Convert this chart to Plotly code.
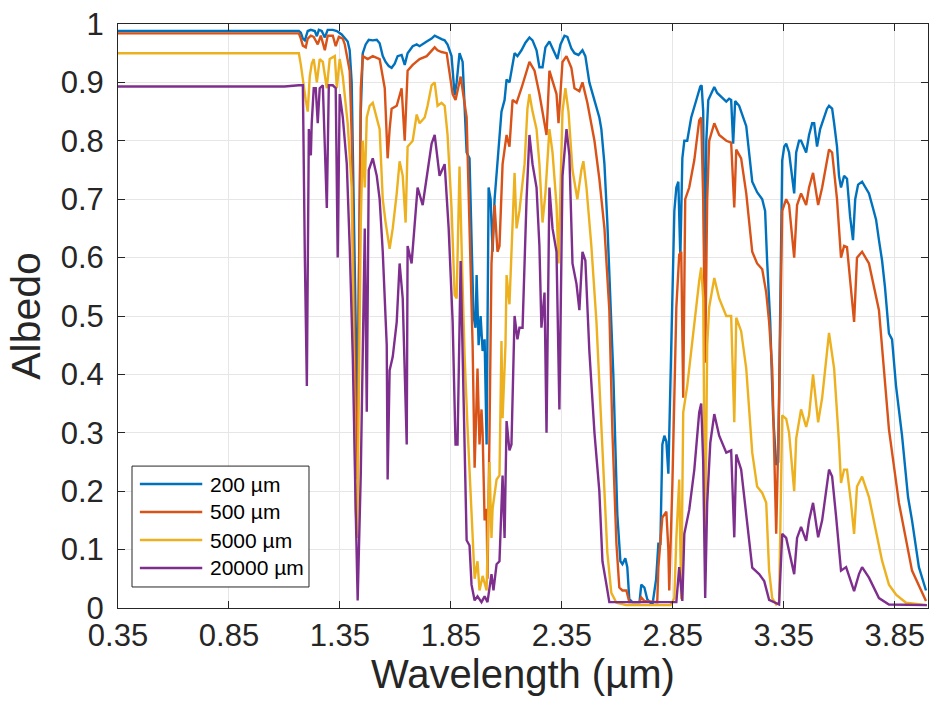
import plotly.graph_objects as go

# Spectral albedo of snow for four grain sizes: (wavelength in µm, albedo)
albedo_200um = [
    (0.35, 0.988), (1.165, 0.988), (1.174, 0.985), (1.183, 0.975), (1.192, 0.972), (1.205, 0.988),
    (1.219, 0.990), (1.237, 0.988), (1.246, 0.979), (1.255, 0.990), (1.268, 0.988), (1.282, 0.977),
    (1.295, 0.990), (1.318, 0.990), (1.336, 0.988), (1.358, 0.982), (1.385, 0.970), (1.394, 0.955),
    (1.403, 0.90), (1.412, 0.70), (1.421, 0.45), (1.428, 0.33), (1.435, 0.55), (1.444, 0.85),
    (1.453, 0.95), (1.466, 0.965), (1.480, 0.973), (1.498, 0.972), (1.516, 0.973), (1.529, 0.967),
    (1.543, 0.945), (1.556, 0.935), (1.570, 0.928), (1.583, 0.925), (1.597, 0.932), (1.610, 0.945),
    (1.628, 0.947), (1.642, 0.930), (1.655, 0.950), (1.678, 0.962), (1.696, 0.965), (1.709, 0.962),
    (1.741, 0.970), (1.763, 0.975), (1.777, 0.980), (1.790, 0.977), (1.808, 0.974), (1.822, 0.972),
    (1.835, 0.965), (1.853, 0.945), (1.867, 0.878), (1.876, 0.90), (1.889, 0.950), (1.903, 0.935),
    (1.921, 0.78), (1.934, 0.77), (1.943, 0.62), (1.952, 0.50), (1.961, 0.48), (1.966, 0.57),
    (1.975, 0.45), (1.984, 0.50), (1.993, 0.44), (2.002, 0.46), (2.011, 0.28), (2.020, 0.72),
    (2.029, 0.70), (2.038, 0.61), (2.047, 0.70), (2.056, 0.74), (2.069, 0.80), (2.078, 0.85),
    (2.092, 0.87), (2.101, 0.905), (2.114, 0.90), (2.128, 0.935), (2.137, 0.95), (2.150, 0.945),
    (2.168, 0.955), (2.186, 0.968), (2.204, 0.977), (2.218, 0.972), (2.236, 0.955), (2.249, 0.926),
    (2.263, 0.926), (2.276, 0.96), (2.294, 0.970), (2.312, 0.955), (2.330, 0.940), (2.344, 0.965),
    (2.362, 0.980), (2.375, 0.978), (2.393, 0.958), (2.407, 0.950), (2.425, 0.947), (2.443, 0.955),
    (2.456, 0.945), (2.474, 0.90), (2.497, 0.87), (2.519, 0.84), (2.528, 0.82), (2.542, 0.76),
    (2.555, 0.66), (2.569, 0.53), (2.582, 0.40), (2.600, 0.16), (2.614, 0.08), (2.623, 0.075),
    (2.636, 0.085), (2.645, 0.070), (2.654, 0.015), (2.668, 0.01), (2.700, 0.01), (2.708, 0.04),
    (2.722, 0.035), (2.735, 0.015), (2.758, 0.005), (2.775, 0.05), (2.785, 0.11), (2.794, 0.11),
    (2.798, 0.17), (2.803, 0.28), (2.812, 0.295), (2.821, 0.285), (2.830, 0.23), (2.839, 0.40),
    (2.848, 0.55), (2.857, 0.68), (2.866, 0.72), (2.875, 0.73), (2.884, 0.60), (2.893, 0.77),
    (2.902, 0.80), (2.915, 0.80), (2.933, 0.84), (2.947, 0.86), (2.960, 0.875), (2.974, 0.893),
    (2.980, 0.895), (2.987, 0.85), (2.994, 0.50), (3.001, 0.80), (3.010, 0.87), (3.028, 0.885),
    (3.037, 0.892), (3.050, 0.882), (3.073, 0.874), (3.091, 0.867), (3.104, 0.872), (3.113, 0.870),
    (3.122, 0.795), (3.131, 0.868), (3.149, 0.86), (3.181, 0.825), (3.208, 0.73), (3.230, 0.712),
    (3.253, 0.70), (3.266, 0.68), (3.275, 0.595), (3.289, 0.49), (3.302, 0.33), (3.316, 0.245),
    (3.325, 0.25), (3.334, 0.55), (3.343, 0.766), (3.352, 0.79), (3.361, 0.795), (3.374, 0.78),
    (3.388, 0.74), (3.397, 0.71), (3.406, 0.78), (3.419, 0.80), (3.428, 0.80), (3.440, 0.79),
    (3.451, 0.78), (3.464, 0.81), (3.478, 0.83), (3.487, 0.83), (3.500, 0.79), (3.514, 0.82),
    (3.530, 0.84), (3.545, 0.855), (3.554, 0.86), (3.568, 0.855), (3.577, 0.83), (3.590, 0.79),
    (3.599, 0.74), (3.608, 0.72), (3.622, 0.74), (3.635, 0.735), (3.649, 0.67), (3.662, 0.63),
    (3.672, 0.70), (3.685, 0.725), (3.703, 0.73), (3.720, 0.72), (3.734, 0.71), (3.752, 0.685),
    (3.766, 0.665), (3.779, 0.63), (3.793, 0.595), (3.806, 0.55), (3.824, 0.47), (3.838, 0.46),
    (3.856, 0.38), (3.883, 0.295), (3.910, 0.19), (3.928, 0.15), (3.959, 0.07), (3.991, 0.03),
]

albedo_500um = [
    (0.35, 0.984), (1.165, 0.984), (1.174, 0.975), (1.183, 0.963), (1.196, 0.960), (1.205, 0.975),
    (1.219, 0.980), (1.232, 0.978), (1.250, 0.965), (1.264, 0.980), (1.282, 0.955), (1.295, 0.980),
    (1.318, 0.980), (1.331, 0.962), (1.345, 0.978), (1.363, 0.975), (1.372, 0.965), (1.385, 0.940),
    (1.394, 0.920), (1.403, 0.81), (1.412, 0.55), (1.421, 0.30), (1.428, 0.22), (1.435, 0.50),
    (1.444, 0.89), (1.453, 0.945), (1.475, 0.94), (1.498, 0.945), (1.529, 0.94), (1.552, 0.89),
    (1.565, 0.77), (1.574, 0.82), (1.583, 0.855), (1.606, 0.86), (1.628, 0.89), (1.642, 0.80),
    (1.655, 0.92), (1.678, 0.93), (1.709, 0.94), (1.741, 0.945), (1.777, 0.96), (1.790, 0.955),
    (1.808, 0.952), (1.831, 0.95), (1.858, 0.88), (1.871, 0.87), (1.894, 0.91), (1.921, 0.84),
    (1.934, 0.66), (1.948, 0.45), (1.957, 0.24), (1.970, 0.41), (1.979, 0.28), (1.988, 0.34),
    (1.993, 0.30), (2.002, 0.15), (2.011, 0.17), (2.015, 0.05), (2.024, 0.30), (2.033, 0.59),
    (2.047, 0.69), (2.060, 0.61), (2.069, 0.62), (2.083, 0.76), (2.101, 0.81), (2.114, 0.79),
    (2.128, 0.87), (2.146, 0.865), (2.168, 0.89), (2.204, 0.935), (2.227, 0.92), (2.249, 0.88),
    (2.281, 0.81), (2.294, 0.92), (2.326, 0.88), (2.335, 0.83), (2.353, 0.935), (2.371, 0.945),
    (2.393, 0.925), (2.407, 0.89), (2.429, 0.885), (2.443, 0.90), (2.465, 0.865), (2.497, 0.80),
    (2.519, 0.735), (2.542, 0.65), (2.564, 0.51), (2.578, 0.30), (2.596, 0.11), (2.609, 0.035),
    (2.623, 0.03), (2.641, 0.03), (2.654, 0.01), (2.700, 0.01), (2.708, 0.018), (2.722, 0.012),
    (2.780, 0.01), (2.785, 0.07), (2.803, 0.155), (2.821, 0.165), (2.830, 0.10), (2.834, 0.03),
    (2.848, 0.21), (2.866, 0.515), (2.879, 0.605), (2.888, 0.61), (2.897, 0.36), (2.906, 0.70),
    (2.924, 0.72), (2.947, 0.767), (2.969, 0.835), (2.978, 0.84), (2.987, 0.70), (2.996, 0.42),
    (3.005, 0.70), (3.014, 0.80), (3.037, 0.83), (3.059, 0.81), (3.091, 0.80), (3.113, 0.797),
    (3.127, 0.686), (3.136, 0.785), (3.158, 0.77), (3.181, 0.71), (3.208, 0.61), (3.230, 0.59),
    (3.253, 0.58), (3.271, 0.54), (3.284, 0.49), (3.298, 0.41), (3.316, 0.127), (3.329, 0.35),
    (3.343, 0.68), (3.361, 0.70), (3.374, 0.69), (3.397, 0.60), (3.410, 0.69), (3.428, 0.71),
    (3.451, 0.69), (3.464, 0.72), (3.482, 0.745), (3.505, 0.69), (3.523, 0.72), (3.554, 0.785),
    (3.568, 0.78), (3.590, 0.70), (3.608, 0.60), (3.622, 0.62), (3.635, 0.618), (3.653, 0.54),
    (3.667, 0.49), (3.680, 0.60), (3.703, 0.61), (3.734, 0.59), (3.766, 0.53), (3.779, 0.51),
    (3.824, 0.306), (3.869, 0.18), (3.928, 0.064), (3.991, 0.012),
]

albedo_5000um = [
    (0.35, 0.950), (1.165, 0.950), (1.174, 0.93), (1.183, 0.903), (1.196, 0.87), (1.205, 0.85),
    (1.214, 0.91), (1.223, 0.932), (1.232, 0.94), (1.246, 0.90), (1.259, 0.94), (1.273, 0.935),
    (1.291, 0.89), (1.304, 0.94), (1.327, 0.945), (1.336, 0.89), (1.349, 0.94), (1.363, 0.91),
    (1.385, 0.83), (1.403, 0.72), (1.412, 0.45), (1.421, 0.17), (1.428, 0.12), (1.435, 0.35),
    (1.444, 0.66), (1.453, 0.80), (1.462, 0.72), (1.471, 0.84), (1.484, 0.86), (1.498, 0.865),
    (1.516, 0.84), (1.529, 0.82), (1.543, 0.70), (1.556, 0.66), (1.574, 0.615), (1.588, 0.65),
    (1.606, 0.71), (1.619, 0.765), (1.633, 0.74), (1.646, 0.66), (1.655, 0.79), (1.678, 0.80),
    (1.696, 0.845), (1.709, 0.83), (1.732, 0.84), (1.745, 0.86), (1.763, 0.895), (1.777, 0.90),
    (1.790, 0.86), (1.808, 0.865), (1.822, 0.86), (1.835, 0.81), (1.853, 0.685), (1.867, 0.536),
    (1.876, 0.53), (1.889, 0.756), (1.903, 0.55), (1.912, 0.43), (1.925, 0.31), (1.943, 0.17),
    (1.957, 0.05), (1.970, 0.08), (1.979, 0.03), (1.993, 0.055), (2.011, 0.03), (2.024, 0.25),
    (2.033, 0.12), (2.038, 0.17), (2.056, 0.22), (2.069, 0.227), (2.078, 0.457), (2.083, 0.325),
    (2.096, 0.45), (2.101, 0.57), (2.114, 0.52), (2.137, 0.745), (2.146, 0.65), (2.159, 0.68),
    (2.182, 0.76), (2.195, 0.855), (2.204, 0.88), (2.218, 0.85), (2.236, 0.82), (2.249, 0.76),
    (2.263, 0.66), (2.276, 0.71), (2.294, 0.82), (2.308, 0.78), (2.326, 0.69), (2.335, 0.59),
    (2.353, 0.85), (2.366, 0.89), (2.380, 0.85), (2.398, 0.75), (2.420, 0.70), (2.438, 0.75),
    (2.447, 0.765), (2.461, 0.72), (2.483, 0.62), (2.506, 0.49), (2.533, 0.27), (2.555, 0.095),
    (2.573, 0.026), (2.596, 0.009), (2.640, 0.005), (2.840, 0.005), (2.857, 0.017), (2.866, 0.12),
    (2.879, 0.22), (2.888, 0.015), (2.897, 0.335), (2.915, 0.38), (2.933, 0.44), (2.956, 0.52),
    (2.969, 0.56), (2.978, 0.583), (2.987, 0.53), (2.996, 0.10), (3.005, 0.45), (3.014, 0.515),
    (3.037, 0.565), (3.059, 0.53), (3.091, 0.50), (3.113, 0.50), (3.127, 0.318), (3.136, 0.497),
    (3.158, 0.474), (3.181, 0.41), (3.208, 0.266), (3.230, 0.208), (3.253, 0.197), (3.271, 0.18),
    (3.284, 0.064), (3.298, 0.017), (3.316, 0.006), (3.329, 0.01), (3.343, 0.33), (3.361, 0.324),
    (3.374, 0.30), (3.397, 0.20), (3.406, 0.29), (3.428, 0.34), (3.451, 0.31), (3.464, 0.33),
    (3.482, 0.40), (3.505, 0.318), (3.523, 0.36), (3.554, 0.471), (3.577, 0.41), (3.599, 0.283),
    (3.608, 0.214), (3.622, 0.237), (3.635, 0.237), (3.653, 0.18), (3.667, 0.127), (3.680, 0.208),
    (3.703, 0.225), (3.734, 0.19), (3.766, 0.133), (3.793, 0.081), (3.824, 0.04), (3.856, 0.023),
    (3.901, 0.009), (3.995, 0.005),
]

albedo_20000um = [
    (0.35, 0.893), (1.10, 0.893), (1.165, 0.895), (1.183, 0.895), (1.192, 0.60), (1.201, 0.38),
    (1.210, 0.82), (1.219, 0.775), (1.223, 0.83), (1.232, 0.89), (1.241, 0.89), (1.250, 0.83),
    (1.259, 0.89), (1.273, 0.895), (1.291, 0.685), (1.300, 0.895), (1.318, 0.895), (1.331, 0.89),
    (1.340, 0.60), (1.349, 0.88), (1.363, 0.84), (1.381, 0.76), (1.394, 0.62), (1.408, 0.43),
    (1.421, 0.17), (1.430, 0.013), (1.444, 0.23), (1.453, 0.46), (1.462, 0.65), (1.471, 0.336),
    (1.480, 0.75), (1.498, 0.77), (1.516, 0.74), (1.529, 0.70), (1.543, 0.61), (1.561, 0.45),
    (1.565, 0.22), (1.574, 0.407), (1.588, 0.43), (1.606, 0.49), (1.619, 0.59), (1.633, 0.53),
    (1.651, 0.28), (1.655, 0.62), (1.673, 0.59), (1.700, 0.72), (1.723, 0.69), (1.763, 0.795),
    (1.777, 0.81), (1.799, 0.74), (1.822, 0.76), (1.840, 0.65), (1.858, 0.49), (1.871, 0.28),
    (1.880, 0.28), (1.894, 0.594), (1.903, 0.43), (1.921, 0.116), (1.934, 0.107), (1.943, 0.04),
    (1.957, 0.013), (1.970, 0.02), (1.988, 0.01), (2.002, 0.02), (2.015, 0.01), (2.033, 0.058),
    (2.042, 0.03), (2.056, 0.075), (2.069, 0.08), (2.083, 0.227), (2.092, 0.12), (2.101, 0.32),
    (2.114, 0.27), (2.123, 0.28), (2.137, 0.50), (2.150, 0.46), (2.159, 0.48), (2.173, 0.48),
    (2.191, 0.70), (2.204, 0.81), (2.218, 0.76), (2.236, 0.72), (2.249, 0.62), (2.258, 0.48),
    (2.272, 0.54), (2.281, 0.30), (2.294, 0.72), (2.308, 0.65), (2.326, 0.61), (2.339, 0.34),
    (2.353, 0.74), (2.371, 0.82), (2.384, 0.775), (2.398, 0.59), (2.416, 0.555), (2.429, 0.51),
    (2.443, 0.61), (2.456, 0.595), (2.474, 0.44), (2.497, 0.30), (2.519, 0.20), (2.533, 0.08),
    (2.551, 0.04), (2.564, 0.01), (2.866, 0.01), (2.879, 0.07), (2.893, 0.012), (2.902, 0.127),
    (2.924, 0.168), (2.947, 0.237), (2.969, 0.335), (2.978, 0.35), (2.987, 0.25), (2.996, 0.017),
    (3.005, 0.18), (3.019, 0.283), (3.037, 0.332), (3.059, 0.295), (3.091, 0.266), (3.113, 0.27),
    (3.127, 0.121), (3.136, 0.263), (3.158, 0.237), (3.185, 0.15), (3.208, 0.069), (3.239, 0.058),
    (3.262, 0.046), (3.284, 0.014), (3.329, 0.006), (3.343, 0.127), (3.361, 0.12), (3.397, 0.058),
    (3.410, 0.12), (3.428, 0.139), (3.451, 0.115), (3.464, 0.15), (3.482, 0.18), (3.505, 0.121),
    (3.523, 0.15), (3.554, 0.237), (3.568, 0.225), (3.586, 0.156), (3.608, 0.064), (3.631, 0.07),
    (3.653, 0.046), (3.667, 0.029), (3.689, 0.058), (3.703, 0.07), (3.734, 0.052), (3.779, 0.017),
    (3.824, 0.006), (3.995, 0.005),
]

series_names = ["200 µm", "500 µm", "5000 µm", "20000 µm"]
series_colors = ["#0072BD", "#D95319", "#EDB120", "#7E2F8E"]
series_data = [albedo_200um, albedo_500um, albedo_5000um, albedo_20000um]

x_ticks = [0.35, 0.85, 1.35, 1.85, 2.35, 2.85, 3.35, 3.85]
x_tick_labels = ["0.35", "0.85", "1.35", "1.85", "2.35", "2.85", "3.35", "3.85"]
y_ticks = [0, 0.1, 0.2, 0.3, 0.4, 0.5, 0.6, 0.7, 0.8, 0.9, 1.0]
y_tick_labels = ["0", "0.1", "0.2", "0.3", "0.4", "0.5", "0.6", "0.7", "0.8", "0.9", "1"]

FONT = "Liberation Sans, Arial, Helvetica, sans-serif"
INK = "#262626"

fig = go.Figure()
for name, pts, color in zip(series_names, series_data, series_colors):
    fig.add_trace(go.Scatter(
        x=[p[0] for p in pts], y=[p[1] for p in pts],
        mode="lines", name=name, showlegend=False,
        line=dict(color=color, width=2.4),
    ))

axis_common = dict(
    showline=True, linecolor=INK, linewidth=1, mirror="ticks",
    ticks="inside", ticklen=7, tickcolor=INK, tickwidth=1,
    showgrid=True, gridcolor="#E6E6E6", gridwidth=1, zeroline=False,
    tickfont=dict(family=FONT, size=31, color=INK),
)

fig.update_xaxes(
    range=[0.35, 4.0], tickmode="array", tickvals=x_ticks, ticktext=x_tick_labels,
    ticklabelstandoff=0,
    **axis_common,
)
fig.update_yaxes(
    range=[0, 1], tickmode="array", tickvals=y_ticks, ticktext=y_tick_labels,
    ticklabelstandoff=7,
    title=dict(text="Albedo", font=dict(family=FONT, size=41, color=INK), standoff=7),
    **axis_common,
)

# Legend box drawn in paper coordinates, lower-left corner of the axes
legend_box = dict(x0=0.0173, x1=0.2358, y0=0.036, y1=0.243)
legend_rows = [0.2123, 0.1644, 0.1164, 0.0685]
shapes = [dict(type="rect", xref="paper", yref="paper", **legend_box,
               line=dict(color=INK, width=1), fillcolor="white", layer="above")]
annotations = []
for name, color, yrow in zip(series_names, series_colors, legend_rows):
    shapes.append(dict(type="line", xref="paper", yref="paper", x0=0.027, x1=0.104,
                       y0=yrow, y1=yrow, line=dict(color=color, width=2.4), layer="above"))
    annotations.append(dict(xref="paper", yref="paper", x=0.111, y=yrow, text=name,
                            showarrow=False, xanchor="left", yanchor="middle",
                            font=dict(family=FONT, size=21, color="#000000")))

# X-axis label, placed just under the tick labels
annotations.append(dict(xref="paper", yref="paper", x=0.5, y=-0.1130, text="Wavelength (µm)",
                        showarrow=False, xanchor="center", yanchor="middle",
                        font=dict(family=FONT, size=40, color=INK)))

fig.update_layout(
    width=931, height=715,
    margin=dict(l=118, r=3, t=24, b=107),
    paper_bgcolor="white", plot_bgcolor="white",
    shapes=shapes, annotations=annotations,
    showlegend=False,
)

fig.write_html("out.html")
